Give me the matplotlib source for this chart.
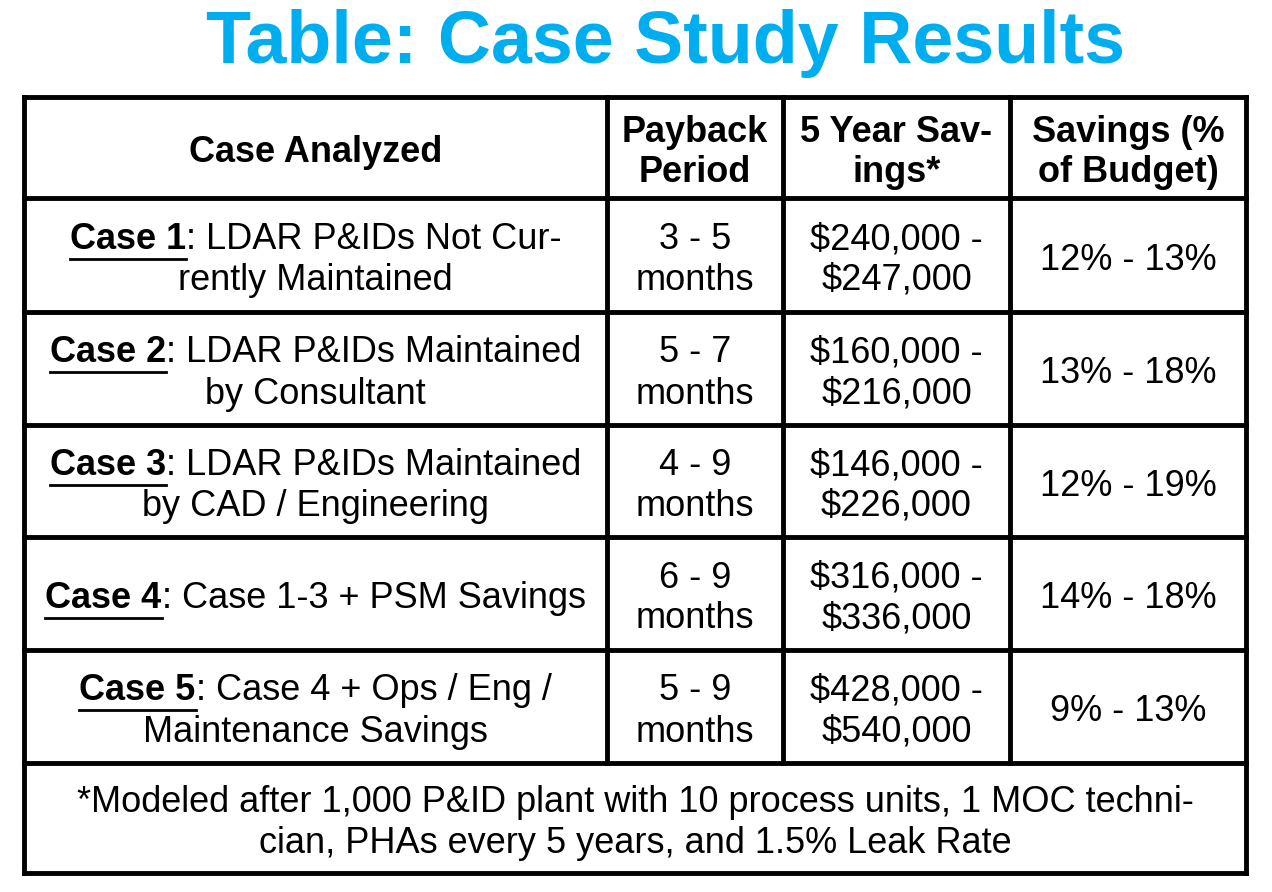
import matplotlib
matplotlib.use("Agg")
import matplotlib.pyplot as plt

title = "Table: Case Study Results"
headers = [["Case Analyzed"], ["Payback", "Period"], ["5 Year Sav-", "ings*"], ["Savings (%", "of Budget)"]]
case_names = ["Case 1", "Case 2", "Case 3", "Case 4", "Case 5"]
case_desc = [[": LDAR P&IDs Not Cur-", "rently Maintained"],
             [": LDAR P&IDs Maintained", "by Consultant"],
             [": LDAR P&IDs Maintained", "by CAD / Engineering"],
             [": Case 1-3 + PSM Savings"],
             [": Case 4 + Ops / Eng /", "Maintenance Savings"]]
payback = ["3 - 5", "5 - 7", "4 - 9", "6 - 9", "5 - 9"]
savings_low = ["$240,000", "$160,000", "$146,000", "$316,000", "$428,000"]
savings_high = ["$247,000", "$216,000", "$226,000", "$336,000", "$540,000"]
pct = ["12% - 13%", "13% - 18%", "12% - 19%", "14% - 18%", "9% - 13%"]
footnote = ["*Modeled after 1,000 P&ID plant with 10 process units, 1 MOC techni-",
            "cian, PHAs every 5 years, and 1.5% Leak Rate"]

FONT = "Liberation Sans"
FS = 26
DY = 5
fig = plt.figure(figsize=(12.72, 8.92), dpi=100)
ax = fig.add_axes([0, 0, 1, 1])
ax.set_xlim(0, 1272); ax.set_ylim(892, 0); ax.axis("off")

ax.text(666, 44, title, color="#00AEEF", fontsize=53, fontweight="bold",
        ha="center", va="center", family=FONT)

cols = [24, 607, 783, 1010, 1246]
rows = [97, 198, 312, 425, 537, 650, 763, 873]
lw = 3.5
for x in cols:
    top = rows[0]; bot = rows[-2] if x not in (cols[0], cols[-1]) else rows[-1]
    ax.plot([x, x], [top, bot], color="black", lw=lw, solid_capstyle="projecting")
for y in rows:
    ax.plot([cols[0], cols[-1]], [y, y], color="black", lw=lw, solid_capstyle="projecting")

LH = 41
def lines(cx, cy, items, bold=False):
    n = len(items)
    for i, s in enumerate(items):
        y = cy + DY + (i - (n - 1) / 2) * LH
        ax.text(cx, y, s, fontsize=FS, ha="center", va="center", family=FONT,
                fontweight="bold" if bold else "normal")

ccent = [(cols[i] + cols[i + 1]) / 2 for i in range(4)]
hc = (rows[0] + rows[1]) / 2
for i, h in enumerate(headers):
    lines(ccent[i], hc, h, bold=True)

fig.canvas.draw()
r = fig.canvas.get_renderer()
def width(s, bold):
    t = ax.text(0, 0, s, fontsize=FS, family=FONT, fontweight="bold" if bold else "normal")
    w = t.get_window_extent(r).width
    t.remove()
    return w

for k in range(5):
    cy = (rows[k + 1] + rows[k + 2]) / 2
    desc = case_desc[k]
    n = len(desc)
    y0 = cy + DY - (n - 1) / 2 * LH
    wb = width(case_names[k], True); wn = width(desc[0], False)
    x0 = ccent[0] - (wb + wn) / 2
    ax.text(x0, y0, case_names[k], fontsize=FS, fontweight="bold", family=FONT, ha="left", va="center")
    ax.plot([x0, x0 + wb], [y0 + 19, y0 + 19], color="black", lw=2)
    ax.text(x0 + wb, y0, desc[0], fontsize=FS, family=FONT, ha="left", va="center")
    for j in range(1, n):
        ax.text(ccent[0], y0 + j * LH, desc[j], fontsize=FS, family=FONT, ha="center", va="center")
    lines(ccent[1], cy, [payback[k], "months"])
    lines(ccent[2], cy, [savings_low[k] + " -", savings_high[k]])
    lines(ccent[3], cy, [pct[k]])

lines((cols[0] + cols[-1]) / 2, (rows[-2] + rows[-1]) / 2, footnote)
fig.savefig("out.png", dpi=100, facecolor="white")
